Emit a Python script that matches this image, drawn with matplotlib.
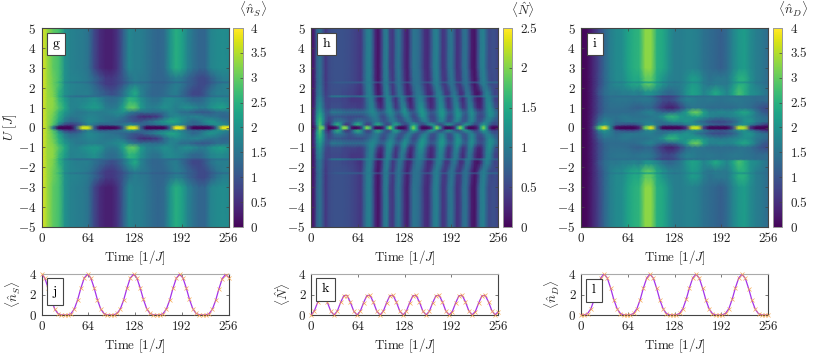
import numpy as np
import matplotlib
matplotlib.use('Agg')
import matplotlib.pyplot as plt
from matplotlib.patches import Rectangle

plt.rcParams['font.family'] = 'cmr10'
plt.rcParams['mathtext.fontset'] = 'cm'
plt.rcParams['axes.formatter.use_mathtext'] = True
plt.rcParams['axes.unicode_minus'] = False
plt.rcParams['font.size'] = 9.4

W, H = 830, 356
edge = '#444444'
text_col = '#222222'

# --- grid the maps were read on
time_g = np.arange(0, 257, 8)
time_h = np.arange(0, 257, 4)
time_i = np.arange(0, 257, 8)
time_pts = np.arange(58) * 4.5
u_up = [0, 0.05, 0.14, 0.3, 0.55, 0.78, 1.0, 1.35, 1.5, 1.58, 1.66, 1.8, 2.2, 2.28, 2.36, 2.5, 3, 5]

# --- panel g, rows named after U
g_0 = [3.9,3.4,1.6,.05,.05,.05,1.2,3.7,3.7,1.2,.1,.05,.05,.2,1.3,3.7,3.8,1.2,.05,.05,.05,.1,1.3,3.9,3.8,.9,.05,.05,.05,.2,1.5,3.8,3.9]
g_01 = [3.9,3.4,2.9,1.6,.8,.65,.85,1.3,1.7,1.5,1.2,1.2,1.3,1.4,1.6,1.9,1.8,1.4,1.2,1.3,1.5,1.7,1.8,1.9,1.7,1.4,1.3,1.3,1.5,1.8,2,1.9,1.7]
g_03 = [3.9,3.4,3.0,2.3,1.6,1.3,1.35,1.6,1.9,1.8,1.7,1.6,1.5,1.4,1.3,1.2,1.0,1.1,1.4,1.6,1.9,2.1,2.4,2.3,1.9,1.6,1.3,1.5,1.9,2.1,1.9,1.7,1.5]
g_055 = [3.9,3.4,3.1,2.5,1.9,1.6,1.6,1.7,1.8,1.8,1.7,1.6,1.6,1.7,1.5,1.1,.9,.5,.45,.55,.7,1.3,1.7,1.9,1.8,1.7,1.8,1.8,1.6,1.5,1.5,1.3,1.3]
g_08 = [3.9,3.4,3.2,2.6,2.1,1.8,1.6,1.6,1.7,1.7,1.65,1.7,1.8,1.9,2.0,1.7,1.5,1.4,1.5,1.4,1.4,1.5,1.8,1.7,1.4,1.4,1.2,1.1,1.1,1.2,1.4,1.4,1.5]
g_10 = [3.9,3.4,3.3,2.9,2.4,1.8,1.75,1.95,2.1,2.2,2.1,1.7,1.6,1.7,2.3,3.0,3.0,2.2,1.8,1.7,1.8,2.0,1.9,1.7,1.9,2.0,1.9,1.7,1.7,2.0,2.2,2.3,2.0]
g_135 = [3.9,3.4,3.3,2.7,2.2,1.75,1.8,1.8,1.9,2.0,1.8,1.5,1.4,1.5,1.9,2.6,2.5,2.0,1.7,1.5,1.5,1.8,1.9,1.8,1.7,1.5,1.3,1.3,1.5,1.8,1.9,1.9,1.8]
g_158 = [3.9,3.4,3.2,2.5,1.75,1.5,1.4,1.4,1.4,1.4,1.35,1.35,1.25,1.25,1.5,2.0,2.2,1.7,1.5,1.35,1.35,1.4,1.4,1.4,1.3,1.15,1.0,1.0,1.15,1.4,1.5,1.5,1.5]
g_18 = [3.9,3.4,3.2,2.6,2.0,1.8,1.7,1.7,1.7,1.5,1.3,1.1,.95,1.1,1.5,2.0,2.4,1.8,1.5,1.3,1.3,1.4,1.6,1.7,1.4,1.1,.85,.85,1.1,1.5,1.7,1.7,1.7]
g_228 = [3.9,3.4,3.1,2.6,1.8,1.6,1.5,1.5,1.4,1.2,.9,.7,.7,.8,1.0,1.3,1.5,1.4,1.35,1.2,1.2,1.2,1.3,1.4,1.3,1.2,1.1,.9,.9,1.1,1.3,1.4,1.4]
g_25 = [3.9,3.4,3.1,2.8,2.0,1.8,1.75,1.7,1.6,1.3,1.0,.7,.65,.8,1.1,1.5,1.7,1.6,1.55,1.35,1.3,1.3,1.5,1.7,1.6,1.3,1.1,.9,.9,1.2,1.5,1.7,1.7]
g_far = [3.9,3.4,3.0,2.8,2.0,1.75,1.7,1.65,1.5,.9,.5,.35,.35,.6,1.2,1.85,1.7,1.7,1.55,1.4,1.3,1.4,2.0,2.5,2.3,1.8,1.5,1.3,1.3,1.8,1.9,1.95,1.9]

# --- panel i
i_0 = [.05,.1,.6,2.8,3.9,2.0,.2,.05,.05,.05,.4,3.0,3.8,1.5,.1,.05,.05,.1,.6,3.6,3.7,.8,.05,.05,.05,.1,.9,3.6,3.5,.6,.05,.05,.05]
i_01 = [.05,.1,.5,1.7,2.1,1.7,1.2,1.0,.9,.9,1.2,1.7,1.9,1.6,1.3,1.2,1.2,1.3,1.6,1.9,1.9,1.6,1.3,1.2,1.1,1.2,1.5,1.9,2.0,1.6,1.2,.8,.5]
i_03 = [.05,.1,.5,1.3,1.8,1.7,1.4,1.5,1.6,1.6,1.6,1.7,1.7,1.5,1.5,1.8,2.0,1.9,2.1,1.9,1.5,1.3,1.0,.9,.9,1.0,1.2,1.6,2.0,2.1,1.7,1.5,1.4]
i_055 = [.05,.1,.45,1.1,1.5,1.5,1.5,1.6,1.6,1.5,1.5,1.5,1.6,1.7,2.0,2.6,2.6,2.2,2.0,2.2,2.3,2.0,1.8,1.7,1.6,1.7,1.8,1.9,2.0,1.9,1.6,1.5,1.3]
i_08 = [.05,.1,.4,.9,1.3,1.4,1.4,1.4,1.4,1.4,1.5,1.7,1.8,1.5,1.3,1.3,1.4,1.7,2.2,3.0,3.1,2.3,1.8,1.8,1.9,1.8,1.9,2.2,2.4,2.1,1.6,1.2,1.0]
i_10 = [.05,.1,.4,.9,1.25,1.45,1.45,1.45,1.4,1.25,1.2,1.3,1.3,.95,.6,.35,.4,.8,1.3,1.55,1.55,1.5,1.4,1.4,1.4,1.4,1.4,1.5,1.5,1.4,1.2,1.0,.9]
i_135 = [.05,.1,.4,.9,1.3,1.5,1.55,1.55,1.55,1.5,1.55,1.6,1.55,1.25,.95,.85,1.0,1.4,1.7,1.7,1.6,1.55,1.6,1.55,1.5,1.55,1.6,1.6,1.55,1.5,1.4,1.4,1.4]
i_158 = [.05,.1,.4,.9,1.3,1.45,1.45,1.45,1.45,1.45,1.45,1.45,1.35,1.0,.75,.75,.85,1.2,1.45,1.45,1.45,1.45,1.5,1.5,1.5,1.5,1.5,1.5,1.5,1.5,1.4,1.4,1.4]
i_18 = [.05,.1,.4,1.0,1.4,1.6,1.6,1.7,1.7,1.8,1.7,2.0,2.0,1.8,1.5,1.3,1.4,1.6,2.0,2.3,2.2,1.8,2.0,2.4,2.1,1.8,2.3,2.8,2.5,2.0,1.9,1.7,1.5]
i_228 = [.05,.1,.4,.9,1.3,1.6,1.7,1.7,1.9,2.0,2.0,2.3,2.3,2.0,1.7,1.6,1.5,1.6,1.8,1.9,1.9,1.6,1.6,1.7,1.6,1.6,1.9,2.1,2.0,1.8,1.6,1.5,1.4]
i_25 = [.05,.1,.4,.85,1.3,1.7,1.9,1.9,2.2,2.4,2.4,3.0,3.0,2.4,2.1,1.8,1.7,1.7,1.9,2.2,2.1,1.7,1.5,1.6,1.6,1.6,2.0,2.5,2.5,2.0,1.7,1.6,1.4]
i_far = [.05,.1,.4,.8,1.3,1.7,1.9,1.95,2.3,2.5,2.6,3.3,3.3,2.5,2.4,2.0,1.7,1.7,1.75,1.75,1.7,1.5,1.4,1.3,1.2,1.4,1.8,2.1,2.2,1.9,1.7,1.6,1.4]

# --- panel h, finer in time because the stripes are narrow
h_0 = [.05,.15,.9,1.9,1.95,.7,.1,.05,.1,.3,1.2,2.0,2.0,1.0,.15,.05,.1,.3,1.2,2.0,1.8,.7,.1,.05,.1,.4,1.4,2.0,1.5,.5,.08,.05,.1,.4,1.3,2.0,1.5,.5,.08,.05,.1,.3,1.3,2.0,1.5,.5,.08,.05,.1,.3,1.3,2.0,1.6,.5,.08,.05,.1,.3,1.3,2.0,1.4,.4,.08,.05,.1]
h_01 = [.12,.25,1.2,1.8,1.2,.5,.25,.7,1.3,1.65,1.4,.7,.35,.4,.8,1.4,1.65,1.4,.8,.45,.45,.8,1.35,1.6,1.3,.8,.5,.6,1.2,1.5,1.3,.8,.5,.55,1.05,1.45,1.3,.8,.5,.6,1.05,1.4,1.25,.8,.5,.6,1.05,1.4,1.2,.8,.5,.6,1.05,1.4,1.2,.8,.5,.6,1.05,1.4,1.15,.8,.55,.5,.6]
h_03 = [.15,.3,1.3,1.7,1.3,.7,.45,.6,.9,1.0,1.0,.9,.75,.65,.7,.85,1.0,1.0,.85,.7,.7,.85,1.0,1.0,.8,.65,.7,.9,1.05,1.0,.75,.6,.7,1.0,1.05,.8,.6,.65,.9,1.1,1.0,.7,.6,.75,1.05,1.1,.85,.6,.7,1.0,1.15,.9,.65,.7,1.0,1.15,.9,.65,.65,.9,1.1,1.05,.8,.65,.65]
h_055 = [.15,.3,1.2,1.55,1.25,.75,.55,.6,.65,.65,.65,.6,.6,.55,.55,.55,.55,.55,.6,.7,.85,1.0,1.05,.9,.6,.55,.8,1.05,1.05,.75,.55,.7,1.05,1.1,.8,.5,.6,.95,1.25,1.2,.85,.55,.55,.8,1.15,1.3,1.0,.6,.55,.9,1.25,1.2,.75,.6,.95,1.2,1.0,.6,.5,.6,.95,1.2,1.15,.9,.7]
h_08 = [.15,.3,1.1,1.4,1.1,.7,.7,1.0,1.05,1.0,1.0,.95,.9,.9,.9,.9,.9,.9,.9,1.0,1.1,1.2,1.1,.9,.8,.85,1.1,1.25,1.1,.85,.8,1.05,1.3,1.1,.8,.7,.85,1.2,1.35,1.2,.9,.7,.75,.95,1.25,1.35,1.1,.8,.75,1.0,1.3,1.2,.85,.75,1.05,1.25,1.0,.7,.6,.7,1.0,1.25,1.2,1.0,.8]
h_10 = [.15,.25,1.0,1.25,.95,.6,.5,.6,.6,.6,.6,.55,.5,.5,.5,.5,.45,.45,.55,.8,1.05,1.15,.85,.45,.3,.55,1.05,1.2,.85,.4,.55,1.0,1.2,.7,.3,.4,.85,1.2,1.25,.95,.55,.3,.4,.8,1.2,1.2,.8,.4,.5,.95,1.2,.8,.4,.5,1.0,1.1,.6,.3,.25,.55,1.0,1.25,1.05,.7,.55]
h_135 = [.15,.2,.9,1.1,.85,.5,.5,.55,.55,.55,.55,.5,.5,.45,.4,.4,.4,.4,.5,.85,1.05,1.05,.6,.25,.2,.6,1.1,1.05,.6,.35,.7,1.05,.85,.4,.2,.5,.9,1.1,1.05,.75,.4,.25,.4,.85,1.15,1.05,.6,.35,.6,1.0,1.0,.55,.3,.6,1.0,.85,.4,.2,.2,.55,1.05,1.15,.85,.5,.45]
h_158 = [.15,.2,.85,1.05,.8,.5,.65,1.0,1.05,1.05,1.05,1.0,.95,.9,.85,.85,.9,.95,1.0,1.1,1.15,1.05,.9,.8,.85,1.0,1.15,1.05,.85,.85,1.0,1.1,.95,.8,.8,.9,1.0,1.1,1.05,.95,.8,.8,.9,1.05,1.15,1.05,.85,.8,.95,1.1,.95,.8,.8,1.0,1.05,.9,.75,.7,.8,1.0,1.15,1.1,.9,.8,.8]
h_18 = [.15,.2,.8,1.0,.75,.45,.55,.6,.6,.6,.6,.55,.55,.5,.5,.45,.4,.35,.6,.95,1.1,.9,.4,.15,.3,.85,1.1,.8,.4,.6,.95,.9,.5,.25,.3,.7,.95,1.0,.85,.55,.3,.3,.6,1.0,1.1,.8,.4,.4,.8,1.0,.75,.35,.4,.85,.95,.55,.2,.12,.3,.8,1.1,1.0,.7,.5,.5]
h_228 = [.15,.2,.75,.95,.7,.45,.6,.65,.7,.75,.75,.75,.75,.75,.75,.75,.75,.75,.9,1.0,1.05,.9,.7,.55,.7,.95,1.0,.8,.75,.85,.95,.85,.7,.65,.75,.9,.95,.9,.8,.7,.7,.8,1.0,1.05,.95,.75,.75,.85,.95,.9,.75,.75,.85,.95,.85,.7,.65,.7,.95,1.05,1.0,.9,.85,.85,.8]
h_25 = [.15,.2,.75,.95,.7,.4,.55,.6,.62,.62,.62,.62,.6,.58,.55,.5,.45,.4,.7,1.0,1.1,.8,.3,.12,.4,.95,1.05,.6,.4,.75,1.0,.75,.4,.2,.5,.9,.95,.9,.65,.4,.3,.5,.95,1.1,.85,.45,.4,.75,1.0,.8,.4,.4,.8,.95,.7,.3,.12,.35,.9,1.1,.9,.6,.55,.6,.5]
h_far = [.15,.2,.75,.95,.7,.4,.55,.6,.62,.62,.62,.62,.6,.58,.55,.5,.45,.4,.7,1.0,1.1,.8,.3,.12,.4,.95,1.05,.5,.4,.8,1.0,.7,.35,.2,.6,.95,.95,.85,.6,.35,.3,.6,1.0,1.1,.8,.4,.45,.85,1.0,.7,.35,.45,.85,.95,.6,.2,.12,.5,1.0,1.1,.8,.55,.6,.6,.5]

# --- line panels
n_s = [4,3.61,2.64,1.49,.6,.14,.01,0,.01,.14,.6,1.49,2.64,3.61,
       3.98,3.62,2.66,1.5,.6,.14,.01,0,.02,.15,.6,1.47,2.62,3.6,
       3.97,3.63,2.66,1.52,.62,.15,.02,0,.01,.14,.58,1.46,2.6,3.58,
       3.96,3.64,2.68,1.54,.63,.16,.02,0,.02,.13,.57,1.44,2.58,3.56,
       3.95,3.65]
n_tot = [0,.38,1.22,1.9,1.9,1.22,.38,0,.38,1.22,1.9,1.9,1.22,.38,
         0,.37,1.21,1.9,1.91,1.23,.39,0,.37,1.2,1.9,1.91,1.24,.39,
         .01,.36,1.2,1.89,1.91,1.25,.4,.01,.35,1.19,1.88,1.92,1.26,.41,
         .01,.34,1.18,1.88,1.92,1.27,.42,.02,.33,1.17,1.87,1.92,1.28,.43,
         .02,.33]
n_d = [0,.01,.14,.6,1.49,2.64,3.61,4,3.61,2.64,1.49,.6,.14,.01,
       0,.01,.15,.61,1.5,2.65,3.61,3.98,3.6,2.62,1.47,.59,.14,.01,
       0,.02,.15,.62,1.52,2.66,3.62,3.97,3.59,2.6,1.46,.58,.13,.01,
       0,.02,.16,.63,1.54,2.68,3.63,3.96,3.57,2.58,1.44,.57,.13,.01,
       0,.02]

ticks_t = [0, 64, 128, 192, 256]
ticks_u = [-5, -4, -3, -2, -1, 0, 1, 2, 3, 4, 5]
ticks_c4 = [0, 0.5, 1, 1.5, 2, 2.5, 3, 3.5, 4]
ticks_c25 = [0, 0.5, 1, 1.5, 2, 2.5]
lab_t = 'Time $[1/J]$'


def px_axes(fig, x0, x1, y0, y1):
    # pixel box, y measured from the top
    return fig.add_axes([x0 / W, 1 - y1 / H, (x1 - x0) / W, (y1 - y0) / H])


def tag(ax, letter, x0, x1, y0, y1):
    box = ax.get_position()
    bx0, bx1 = box.x0 * W, box.x1 * W
    by0, by1 = (1 - box.y1) * H, (1 - box.y0) * H
    fx0 = (x0 - bx0) / (bx1 - bx0)
    fx1 = (x1 - bx0) / (bx1 - bx0)
    fy0 = 1 - (y1 - by0) / (by1 - by0)
    fy1 = 1 - (y0 - by0) / (by1 - by0)
    ax.add_patch(Rectangle((fx0, fy0), fx1 - fx0, fy1 - fy0, transform=ax.transAxes,
                           fc='white', ec=edge, lw=0.8, zorder=5))
    ax.text((fx0 + fx1) / 2, (fy0 + fy1) / 2, letter, transform=ax.transAxes,
            ha='center', va='center', zorder=6, color='black', fontsize=10)


def style(ax):
    for s in ax.spines.values():
        s.set_color(edge)
        s.set_linewidth(0.8)
    ax.tick_params(direction='in', length=2, width=0.5, color=edge, labelcolor=text_col,
                   top=True, right=True, pad=4)


def heat(fig, x0, x1, times, rows, vmax, cticks, letter, tagbox, clabel, ylabel=False):
    ax = px_axes(fig, x0, x1, 28, 227)
    u_all = np.array([-u for u in u_up[:0:-1]] + u_up)
    z = np.array(rows[:0:-1] + rows)
    tt, uu = np.meshgrid(times, u_all)
    mesh = ax.pcolormesh(tt, uu, z, shading='gouraud', cmap='viridis', vmin=0, vmax=vmax)
    ax.set_xlim(0, 256)
    ax.set_ylim(-5, 5)
    ax.set_xticks(ticks_t)
    ax.set_yticks(ticks_u)
    ax.set_yticklabels([f'${v}$' for v in ticks_u])
    ax.set_xticklabels([str(v) for v in ticks_t])
    ax.set_xlabel(lab_t, labelpad=3, color=text_col)
    if ylabel:
        ax.set_ylabel('$U\\ [J]$', labelpad=-1, color=text_col)
    style(ax)
    tag(ax, letter, *tagbox)
    cax = px_axes(fig, x1 + 4.5, x1 + 14, 28, 227)
    cb = fig.colorbar(mesh, cax=cax)
    cb.set_ticks(cticks)
    cb.set_ticklabels([f'{v:g}' for v in cticks])
    cb.ax.tick_params(direction='in', length=2.5, width=0.5, color=edge, labelcolor=text_col, pad=6)
    cb.outline.set_edgecolor('#999999')
    cb.outline.set_linewidth(0.7)
    cb.solids.set_edgecolor('face')
    fig.text((x1 + 25) / W, 1 - 9 / H, clabel, ha='center', va='center', color=text_col, fontsize=9.5)
    return ax


def line(fig, x0, x1, values, letter, tagbox, ylab):
    ax = px_axes(fig, x0, x1, 274, 315)
    ax.plot(time_pts, values, color='#a432e8', lw=0.9, zorder=3)
    ax.plot(time_pts, values, ls='none', marker='x', ms=2.6, mew=0.45, color='#f5a54a', zorder=4, clip_on=False)
    ax.set_xlim(0, 256)
    ax.set_ylim(0, 4)
    ax.set_xticks(ticks_t)
    ax.set_xticklabels([str(v) for v in ticks_t])
    ax.set_yticks([0, 2, 4])
    ax.set_yticklabels(['0', '2', '4'])
    ax.set_xlabel(lab_t, labelpad=3, color=text_col)
    ax.set_ylabel(ylab, labelpad=5, color=text_col)
    style(ax)
    ax.spines['top'].set_color('#aaaaaa')
    tag(ax, letter, *tagbox)
    return ax


fig = plt.figure(figsize=(W / 100, H / 100), dpi=100)

rows_g = [g_0, g_0, g_01, g_03, g_055, g_08, g_10, g_135, g_135, g_158, g_18, g_18, g_25, g_228, g_25, g_25, g_far, g_far]
rows_h = [h_0, h_0, h_01, h_03, h_055, h_08, h_10, h_135, h_135, h_158, h_18, h_18, h_25, h_228, h_25, h_25, h_far, h_far]
rows_i = [i_0, i_0, i_01, i_03, i_055, i_08, i_10, i_135, i_135, i_158, i_18, i_18, i_25, i_228, i_25, i_25, i_far, i_far]

heat(fig, 41.5, 228.5, time_g, rows_g, 4, ticks_c4, 'g', (47.3, 65.3, 33, 55), r'$\langle\hat{n}_S\rangle$', ylabel=True)
heat(fig, 311, 498, time_h, rows_h, 2.5, ticks_c25, 'h', (317.3, 336, 33, 55), r'$\langle\hat{N}\rangle$')
heat(fig, 581, 768, time_i, rows_i, 4, ticks_c4, 'i', (586.7, 602.7, 33, 55), r'$\langle\hat{n}_D\rangle$')

line(fig, 41.5, 228.5, n_s, 'j', (46.7, 62.7, 278.3, 305), r'$\langle\hat{n}_S\rangle$')
line(fig, 311, 498, n_tot, 'k', (316, 335, 278.3, 300.5), r'$\langle\hat{N}\rangle$')
line(fig, 581, 768, n_d, 'l', (586, 601.7, 279, 301.7), r'$\langle\hat{n}_D\rangle$')

fig.savefig('out.png', dpi=100)
